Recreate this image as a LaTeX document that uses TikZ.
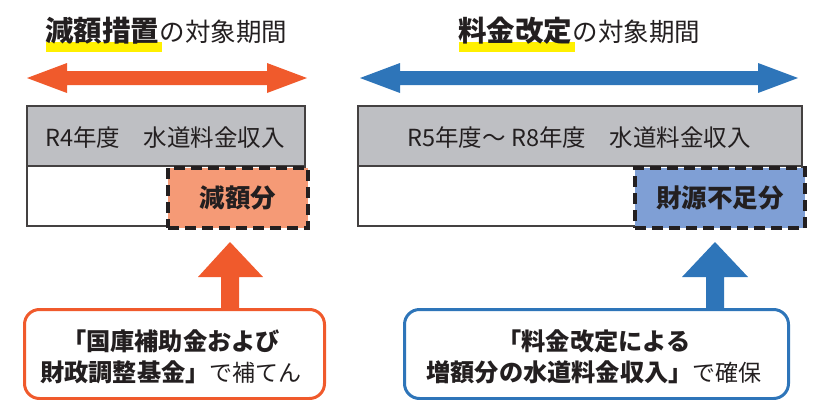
\documentclass[tikz,border=0pt]{standalone}
\usepackage{fontspec}
\setmainfont{Noto Sans CJK JP}
\usetikzlibrary{positioning}
\definecolor{ink}{HTML}{231F20}
\definecolor{orng}{HTML}{F05A2C}
\definecolor{blu}{HTML}{2E75B9}
\definecolor{grayrow}{HTML}{BEBFC3}
\definecolor{orfill}{HTML}{F59A76}
\definecolor{blfill}{HTML}{7F9FD5}
\definecolor{hl}{HTML}{FFF000}
\tikzset{
  boldt/.style={inner sep=0pt, text=ink, font=\fontsize{28.5}{30}\selectfont\bfseries},
  regt/.style={inner sep=0pt, text=ink, font=\fontsize{25.5}{27}\selectfont},
  rowtext/.style={inner sep=0pt, text=ink, font=\fontsize{23.5}{25}\selectfont},
  dashtext/.style={inner sep=0pt, text=ink, font=\fontsize{25.5}{27}\selectfont\bfseries},
  dashbox/.style={draw=ink, line width=4pt, dash pattern=on 11pt off 6pt},
  tablebox/.style={draw=ink!85, line width=1.8pt},
  rbox/.style={line width=3pt, rounded corners=15pt, fill=white},
  boxtext/.style={inner sep=0pt, text=ink, align=center, font=\fontsize{24.2}{31}\selectfont\bfseries}
}
\newcommand{\regpart}[1]{{\fontsize{23}{31}\selectfont\mdseries #1}}
\begin{document}
\begin{tikzpicture}[x=1pt,y=-1pt]
\useasboundingbox (0,0) rectangle (816,399);
% ---------- titles ----------
\fill[hl] (46,42) rectangle (162,52);
\fill[hl] (459,42) rectangle (575,52);
\node[boldt, anchor=base west] (t1b) at (45,41) {減額措置};
\node[regt, anchor=base west] (t1r) at (t1b.base east) {の対象期間};
\node[boldt, anchor=base west] (t2b) at (458,41) {料金改定};
\node[regt, anchor=base west] (t2r) at (t2b.base east) {の対象期間};
% ---------- double arrows ----------
\fill[orng] (27,78) -- (67,63) -- (67,71) -- (267,71) -- (267,63) -- (307,78)
  -- (267,93) -- (267,85) -- (67,85) -- (67,93) -- cycle;
\fill[blu] (360,78) -- (400,63) -- (400,71) -- (758,71) -- (758,63) -- (798,78)
  -- (758,93) -- (758,85) -- (400,85) -- (400,93) -- cycle;
% ---------- left table ----------
\fill[grayrow] (27,106) rectangle (305,166);
\draw[tablebox] (27,106) rectangle (305,226);
\draw[tablebox] (27,166) -- (305,166);
\node[rowtext] (r4) at (165,138) {R4年度　水道料金収入};
\node[dashbox, fill=orfill, minimum width=140pt, minimum height=60pt, inner sep=0pt, anchor=north west] (gen) at (166,166) {};
\node[dashtext] (gentext) at (gen.center) {減額分};
% ---------- right table ----------
\fill[grayrow] (358,106) rectangle (802,166);
\draw[tablebox] (358,106) rectangle (802,226);
\draw[tablebox] (358,166) -- (802,166);
\node[rowtext] (r5) at (579,138) {R5年度～ R8年度　水道料金収入};
\node[dashbox, fill=blfill, minimum width=170pt, minimum height=60pt, inner sep=0pt, anchor=north west] (fus) at (633,166) {};
\node[dashtext] (fustext) at (fus.center) {財源不足分};
% ---------- up arrows ----------
\fill[orng] (221,310) -- (221,277) -- (198,277) -- (230,242) -- (263,277) -- (239,277) -- (239,310) -- cycle;
\fill[blu] (706,310) -- (706,277) -- (682,277) -- (715,242) -- (748,277) -- (724,277) -- (724,310) -- cycle;
% ---------- bottom boxes ----------
\node[rbox, draw=orng, minimum width=300pt, minimum height=89pt, inner sep=0pt, anchor=north west] (lbox) at (23,308) {};
\node[boxtext] (ltext) at (171,357) {「国庫補助金および\\財政調整基金」\regpart{で補てん}};
\node[rbox, draw=blu, minimum width=384pt, minimum height=89pt, inner sep=0pt, anchor=north west] (rbox) at (403,308) {};
\node[boxtext] (rtext) at (594,357) {「料金改定による\\増額分の水道料金収入」\regpart{で確保}};
\end{tikzpicture}
\end{document}
